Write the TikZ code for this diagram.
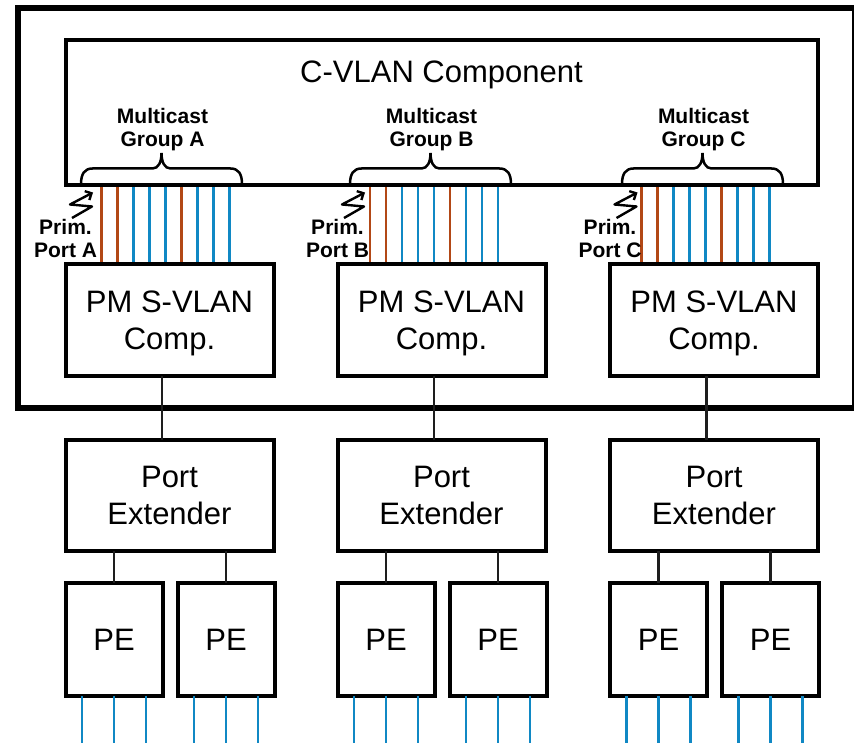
\documentclass[tikz,border=0pt]{standalone}
\usepackage{fontspec}
\setmainfont{Liberation Sans}
\usetikzlibrary{arrows.meta,backgrounds}
\definecolor{brn}{RGB}{178,72,22}
\definecolor{blu}{RGB}{16,136,196}
\definecolor{conn}{RGB}{30,30,30}
\tikzset{
  box/.style={draw,line width=4pt,outer sep=0pt,inner sep=0pt,align=center,
    text depth=0pt,font=\fontsize{31}{37}\selectfont},
  pmbox/.style={box,minimum width=208pt,minimum height=112pt},
  pxbox/.style={box,minimum width=208pt,minimum height=111pt},
  pebox/.style={box,minimum width=97pt,minimum height=113pt},
  blab/.style={inner sep=0pt,outer sep=0pt,align=center,text depth=0pt,anchor=south,
    font=\bfseries\fontsize{21}{23}\selectfont},
  wire/.style={line width=2.6pt},
  link/.style={draw=conn,line width=2.2pt},
  mbrace/.pic={\draw[line width=2.5pt,line cap=round]
    (-80.5,0) .. controls (-80.5,-10) and (-77,-15.5) .. (-69,-15.5) -- (-9,-15.5)
    .. controls (-3,-15.5) and (0,-22) .. (0,-31)
    .. controls (0,-22) and (3,-15.5) .. (9,-15.5) -- (69,-15.5)
    .. controls (77,-15.5) and (80.5,-10) .. (80.5,0);}
}
\begin{document}
\begin{tikzpicture}[x=1pt,y=-1pt]
\useasboundingbox (0,0) rectangle (854,743);
\clip (0,0) rectangle (854,743);
% outer box
\draw[line width=6pt] (17.5,8) rectangle (855,407.5);
% C-VLAN component
\node[box,minimum width=752pt,minimum height=144.5pt] (cv) at (441.5,112.75) {};
\node[anchor=base,inner sep=0pt,font=\fontsize{31}{37}\selectfont] (cvtitle) at (441.5,83) {C-VLAN Component};

\foreach \c/\L/\s/\bx/\gl in {A/65.5/101.7/161.5/Group A,B/337.5/370/430.5/Group B,C/610/641.7/702.5/Group C}{
  \pgfmathsetmacro\cx{\L+104}
  \pgfmathsetmacro\pa{\L+48.5}
  \pgfmathsetmacro\pb{\L+160.5}
  \node[pmbox] (pm\c) at (\cx,320) {PM S-VLAN\\Comp.};
  \node[pxbox] (px\c) at (\cx,495.5) {Port\\Extender};
  \node[pebox] (pe\c1) at (\pa,639.5) {PE};
  \node[pebox] (pe\c2) at (\pb,639.5) {PE};
  % member port wires
  \begin{scope}[on background layer]
  \foreach \i/\col in {0/brn,1/brn,2/blu,3/blu,4/blu,5/brn,6/blu,7/blu,8/blu}{
    \pgfmathsetmacro\xx{\s+16*\i}
    \draw[wire,\col] (\xx,0 |- cv.south) -- (\xx,0 |- pm\c.north);
  }
  \end{scope}
  % brace and group label
  \pic at (\bx,184) {mbrace};
  \pgfmathsetmacro\gx{\bx+1}
  \node[blab] (mg\c) at (\gx,146.5) {Multicast\\\gl};
  % primary port label and arrow
  \node[blab] (pp\c) at (\L,257.5) {Prim.\\Port \c};
  \draw[line width=2.4pt,line join=round,-{Straight Barb[length=5pt,width=10pt]}]
    (\L+6.5,218) -- (\L+26.5,206.5) -- (\L+4.5,204.5) -- (\L+27.5,192.5);
  % connectors
  \draw[link] ([xshift=-7.5pt]pm\c.south) -- ([xshift=-7.5pt]px\c.north);
  \draw[link] (px\c.south -| pe\c1.north) -- (pe\c1.north);
  \draw[link] (px\c.south -| pe\c2.north) -- (pe\c2.north);
  \foreach \k in {1,2}{
    \foreach \d in {-32,0,32}{
      \draw[wire,blu] ([xshift=\d pt]pe\c\k.south) -- ++(0,60);
    }
  }
}
\end{tikzpicture}
\end{document}
